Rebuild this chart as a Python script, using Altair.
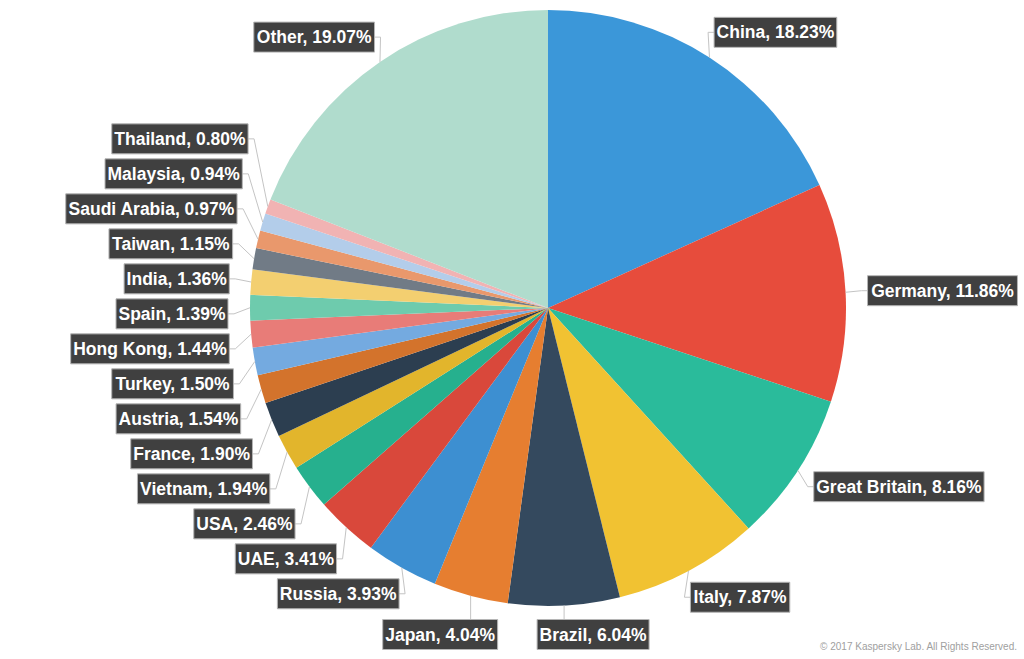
import math
import altair as alt
import pandas as pd

# ---------------- data ----------------
countries = ["China", "Germany", "Great Britain", "Italy", "Brazil", "Japan", "Russia",
             "UAE", "USA", "Vietnam", "France", "Austria", "Turkey", "Hong Kong", "Spain",
             "India", "Taiwan", "Saudi Arabia", "Malaysia", "Thailand", "Other"]
shares = [18.23, 11.86, 8.16, 7.87, 6.04, 4.04, 3.93, 3.41, 2.46, 1.94, 1.90, 1.54,
          1.50, 1.44, 1.39, 1.36, 1.15, 0.97, 0.94, 0.80, 19.07]
labels = [f"{c}, {v:.2f}%" for c, v in zip(countries, shares)]
colors = ["#3b97d9", "#e74c3c", "#2abb9b", "#f1c232", "#34495e", "#e67e30", "#3d8fd1",
          "#d9483b", "#26b08e", "#e2b52c", "#2c3e50", "#d3732c", "#74aae0", "#e87c78",
          "#6ecbad", "#f3cf70", "#717b86", "#e9986c", "#b3cdea", "#f1b3b3", "#b0dccd"]

# ---------------- layout constants ----------------
W, H = 1024, 659
CX, CY, R = 548, 308, 298
FONT = "Liberation Sans"
FONT_SIZE = 17.5
SPACING = 35
R_LABEL_Y = 328
R_LABEL_X = 336
X_INSET = 16
BOTTOM_ZONE = 20.0
BOTTOM_Y = 634.5
BOTTOM_OFF = 27
BOX_H = 30
PAD = 2.5

# Liberation Sans Bold (Arial Bold metrics) advance widths, 1/1000 em
AW = {' ': 278, ',': 278, '.': 278, '%': 889}
AW.update({d: 556 for d in "0123456789"})
AW.update(dict(A=722, B=722, C=722, D=722, E=667, F=611, G=778, H=722, I=278, J=556, K=722,
               L=611, M=833, N=722, O=778, P=667, Q=778, R=722, S=667, T=611, U=722, V=667,
               W=944, X=667, Y=667, Z=611, a=556, b=611, c=556, d=611, e=556, f=333, g=611,
               h=611, i=278, j=278, k=556, l=278, m=889, n=611, o=611, p=611, q=611, r=389,
               s=556, t=333, u=611, v=556, w=778, x=556, y=556, z=500))


def text_width(s):
    return sum(AW.get(ch, 556) for ch in s) / 1000 * FONT_SIZE


total = sum(shares)
items = []
cum = 0.0
for i, (lab, v) in enumerate(zip(labels, shares)):
    mid = (cum + v / 2) / total * 360.0
    cum += v
    a = math.radians(mid)
    items.append(dict(idx=i, label=lab, mid=mid,
                      sx=CX + R * math.sin(a), sy=CY - R * math.cos(a),
                      target=CY - R_LABEL_Y * math.cos(a),
                      bottom=abs(mid - 180.0) < BOTTOM_ZONE,
                      side=1 if mid < 180 else -1,
                      w=text_width(lab) + 2 * PAD))


def distribute(group_items):
    its = sorted(group_items, key=lambda d: d["target"])
    groups = [[it] for it in its]

    def gpos(g):
        return sum(x["target"] for x in g) / len(g) - (len(g) - 1) * SPACING / 2

    merged = True
    while merged:
        merged = False
        for k in range(len(groups) - 1):
            a, b = groups[k], groups[k + 1]
            if gpos(a) + len(a) * SPACING > gpos(b) + 0.5:
                groups[k] = a + b
                del groups[k + 1]
                merged = True
                break
    for g in groups:
        p = gpos(g)
        for j, it in enumerate(g):
            it["y"] = p + j * SPACING


for side in (1, -1):
    distribute([it for it in items if it["side"] == side and not it["bottom"]])

line_rows, box_rows = [], []
for it in items:
    s = it["side"]
    if it["bottom"]:
        y = BOTTOM_Y
        if s == 1:
            x0 = it["sx"] - BOTTOM_OFF
            x1 = x0 + it["w"]
        else:
            x1 = it["sx"] + BOTTOM_OFF
            x0 = x1 - it["w"]
        pts = [(it["sx"], it["sy"]), (it["sx"], y - BOX_H / 2)]
    else:
        y = it["y"]
        a = math.radians(it["mid"])
        edge = CX + s * (R_LABEL_X * abs(math.sin(a)) - X_INSET)
        if s == 1:
            x0, x1 = edge, edge + it["w"]
        else:
            x0, x1 = edge - it["w"], edge
        pts = [(it["sx"], it["sy"]), (edge - s * 6, y), (edge, y)]
    for k, (px, py) in enumerate(pts):
        line_rows.append(dict(name=it["label"], k=k, px=px, py=py))
    box_rows.append(dict(label=it["label"], x0=x0, x1=x1, y0=y - BOX_H / 2,
                         y1=y + BOX_H / 2, tx=(x0 + x1) / 2, ty=y))

slices = pd.DataFrame(dict(country=countries, share=shares, idx=list(range(len(shares)))))
lines = pd.DataFrame(line_rows)
boxes = pd.DataFrame(box_rows)

pie = alt.Chart(slices).mark_arc(radius=R).encode(
    theta=alt.Theta("share:Q", stack=True),
    color=alt.Color("country:N", scale=alt.Scale(domain=countries, range=colors), legend=None),
    order=alt.Order("idx:Q"),
    x=alt.value(CX), y=alt.value(CY),
)

conn = alt.Chart(lines).mark_line(color="#c4c4c4", strokeWidth=1).encode(
    x=alt.X("px:Q", scale=None, axis=None),
    y=alt.Y("py:Q", scale=None, axis=None),
    detail="name:N",
    order="k:O",
)

rects = alt.Chart(boxes).mark_rect(fill="#404040", stroke="#b5b5b5", strokeWidth=1).encode(
    x=alt.X("x0:Q", scale=None, axis=None), x2="x1:Q",
    y=alt.Y("y0:Q", scale=None, axis=None), y2="y1:Q",
)

texts = alt.Chart(boxes).mark_text(font=FONT, fontSize=FONT_SIZE, fontWeight="bold",
                                   color="white", align="center", baseline="middle", dy=1).encode(
    x=alt.X("tx:Q", scale=None, axis=None),
    y=alt.Y("ty:Q", scale=None, axis=None),
    text="label:N",
)

copyright_df = pd.DataFrame(dict(t=["© 2017 Kaspersky Lab. All Rights Reserved."]))
copy_txt = alt.Chart(copyright_df).mark_text(font="Liberation Sans", fontSize=10, color="#a0a0a0",
                                             align="right", baseline="middle").encode(
    x=alt.value(1017), y=alt.value(647), text="t:N")

chart = alt.layer(pie, conn, rects, texts, copy_txt).properties(
    width=W, height=H, padding=0, autosize="none", background="white"
).configure_view(stroke=None)

chart.save("out.html", embed_options={"renderer": "svg", "actions": False})
